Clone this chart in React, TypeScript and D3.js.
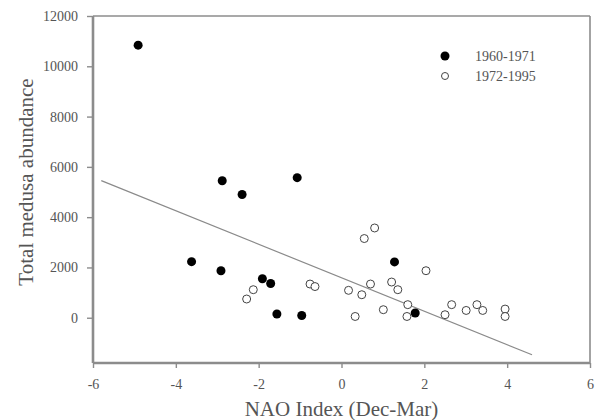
import * as d3 from "d3"
import { useEffect, useRef } from "react"

// 1960-1971 (filled)
const earlyNao = [-4.91, -3.62, -2.91, -2.88, -2.40, -1.91, -1.71, -1.56, -1.07, -0.96, 1.28, 1.78]
const earlyAbund = [10840, 2230, 1870, 5450, 4900, 1550, 1360, 150, 5570, 90, 2220, 190]

// 1972-1995 (open)
const lateNao = [-2.29, -2.13, -0.76, -0.64, 0.17, 0.33, 0.49, 0.55, 0.70, 0.80, 1.01, 1.21, 1.36, 1.58, 1.60, 2.04, 2.50, 2.66, 3.01, 3.27, 3.41, 3.95, 3.95]
const lateAbund = [745, 1115, 1340, 1240, 1090, 50, 915, 3150, 1340, 3570, 320, 1420, 1115, 50, 520, 1870, 120, 520, 290, 520, 290, 345, 50]

// regression line
const fitX = [-5.8, 4.6]
const fitSlope = -666
const fitIntercept = 1590

const xTicks = [-6, -4, -2, 0, 2, 4, 6]
const yTicks = [0, 2000, 4000, 6000, 8000, 10000, 12000]
const legendLabels = ["1960-1971", "1972-1995"]

const width = 595
const height = 420
const font = "'Liberation Serif', 'Times New Roman', serif"

export default function App() {
  const ref = useRef<SVGSVGElement>(null)

  useEffect(() => {
    const svg = d3.select(ref.current)
    svg.selectAll("*").remove()

    const x = d3.scaleLinear().domain([-6, 6]).range([93, 590])
    const y = d3.scaleLinear().domain([-1800, 12000]).range([363, 16])

    // frame
    svg.append("line")
      .attr("x1", x(-6)).attr("x2", x(6)).attr("y1", y(12000)).attr("y2", y(12000))
      .attr("stroke", "#8c8c8c").attr("stroke-width", 1.6)
    svg.append("line")
      .attr("x1", x(6)).attr("x2", x(6)).attr("y1", y(12000)).attr("y2", y(-1800))
      .attr("stroke", "#8c8c8c").attr("stroke-width", 1.6)

    const plain = (d: d3.NumberValue) => String(d)
    const xAxis = svg.append("g")
      .attr("transform", `translate(0,${y(-1800)})`)
      .call(d3.axisBottom(x).tickValues(xTicks).tickSize(5).tickPadding(11).tickFormat(plain))
    const yAxis = svg.append("g")
      .attr("transform", `translate(${x(-6)},0)`)
      .call(d3.axisLeft(y).tickValues(yTicks).tickSize(6).tickPadding(9).tickFormat(plain))

    for (const ax of [xAxis, yAxis]) {
      ax.attr("font-family", font).attr("font-size", 14)
      ax.select(".domain").attr("stroke", "#8c8c8c").attr("stroke-width", 2.6)
      ax.selectAll(".tick line").attr("stroke", "#8c8c8c").attr("stroke-width", 1.4)
      ax.selectAll(".tick text")
        .attr("fill", "#555")
        .style("font-family", font)
        .style("font-size", "14px")
    }
    xAxis.select(".domain").attr("d", `M${x(-6)},0H${x(6)}`)
    yAxis.select(".domain").attr("d", `M0,${y(-1800)}V${y(12000)}`)

    // regression line
    svg.append("line")
      .attr("x1", x(fitX[0])).attr("y1", y(fitIntercept + fitSlope * fitX[0]))
      .attr("x2", x(fitX[1])).attr("y2", y(fitIntercept + fitSlope * fitX[1]))
      .attr("stroke", "#8a8a8a").attr("stroke-width", 1.2)

    // open points
    svg.append("g").selectAll("circle")
      .data(lateNao)
      .enter()
      .append("circle")
        .attr("cx", d => x(d))
        .attr("cy", (d, i) => y(lateAbund[i]))
        .attr("r", 4)
        .attr("fill", "white")
        .attr("stroke", "#444")
        .attr("stroke-width", 1)

    // filled points
    svg.append("g").selectAll("circle")
      .data(earlyNao)
      .enter()
      .append("circle")
        .attr("cx", d => x(d))
        .attr("cy", (d, i) => y(earlyAbund[i]))
        .attr("r", 4.5)
        .attr("fill", "#000")

    // legend
    const leg = svg.append("g")
    leg.append("circle").attr("cx", 445).attr("cy", 56).attr("r", 4.5).attr("fill", "#000")
    leg.append("circle").attr("cx", 445).attr("cy", 76).attr("r", 3.5)
      .attr("fill", "white").attr("stroke", "#444")
    leg.selectAll("text")
      .data(legendLabels)
      .enter()
      .append("text")
        .attr("x", 475)
        .attr("y", (d, i) => 61 + i * 20)
        .attr("fill", "#555")
        .style("font-family", font)
        .style("font-size", "14px")
        .text(d => d)

    // axis titles
    svg.append("text")
      .attr("x", x(0))
      .attr("y", 416)
      .attr("text-anchor", "middle")
      .attr("fill", "#555")
      .style("font-family", font)
      .style("font-size", "21px")
      .text("NAO Index (Dec-Mar)")
    svg.append("text")
      .attr("transform", `translate(33,182) rotate(-90)`)
      .attr("text-anchor", "middle")
      .attr("fill", "#555")
      .style("font-family", font)
      .style("font-size", "21px")
      .text("Total medusa abundance")
  }, [])

  return (
    <svg ref={ref} width={width} height={height}
      style={{ position: "absolute", left: 0, top: 0, background: "white" }} />
  )
}
